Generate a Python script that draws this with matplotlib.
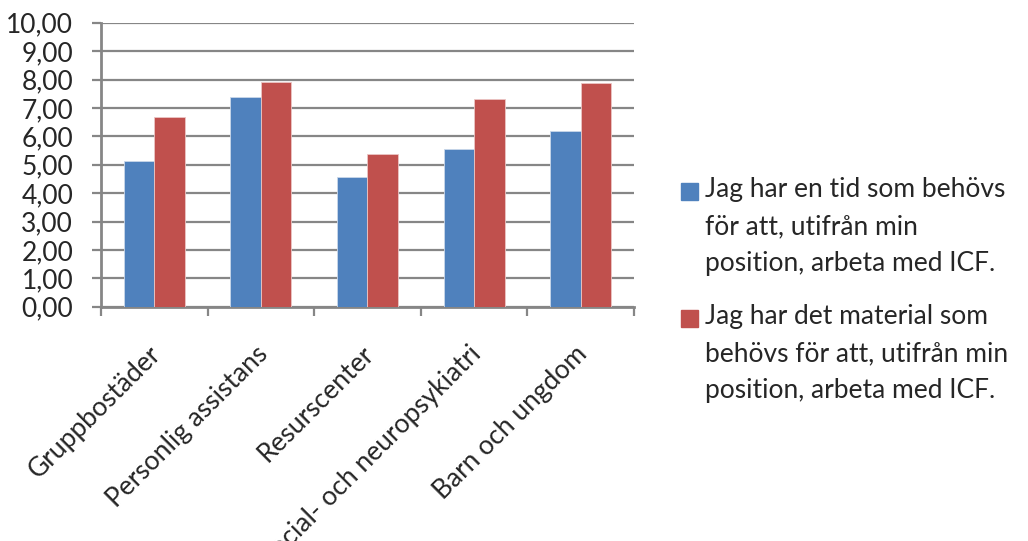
import numpy as np
import matplotlib
matplotlib.use("Agg")
import matplotlib.pyplot as plt
from matplotlib.patches import Rectangle
from matplotlib.transforms import ScaledTranslation

plt.rcParams['font.family'] = ['Lato', 'DejaVu Sans']

# Data per verksamhet
kategorier = ['Gruppbostäder', 'Personlig assistans', 'Resurscenter',
              'Social- och neuropsykiatri', 'Barn och ungdom']
tid = [5.14, 7.37, 4.58, 5.55, 6.19]
material = [6.67, 7.92, 5.37, 7.30, 7.89]

serie_namn = ['Jag har en tid som behövs\nför att, utifrån min\nposition, arbeta med ICF.',
              'Jag har det material som\nbehövs för att, utifrån min\nposition, arbeta med ICF.']

BLA = '#4F81BD'
ROD = '#C0504D'
GRA = '#868686'
TEXT = '#262626'
FS = 19

fig = plt.figure(figsize=(10.28, 5.41), dpi=100)
ax = fig.add_axes([0.0982, 0.433, 0.5185, 0.525])

x = np.arange(len(kategorier))
w = 1 / 3.5
ax.bar(x - w / 2, tid, w, color=BLA, edgecolor='#C9D7EA', linewidth=0.6, zorder=3)
ax.bar(x + w / 2, material, w, color=ROD, edgecolor='#EBC6C5', linewidth=0.6, zorder=3)

ax.set_xlim(-0.5, len(kategorier) - 0.5)
ax.set_ylim(0, 10)
ax.set_yticks(np.arange(0, 11, 1))
ax.set_yticklabels([f'{v:.2f}'.replace('.', ',') for v in range(0, 11)])
ax.yaxis.grid(True, color=GRA, linewidth=1.6, zorder=0)
ax.set_axisbelow(True)

for s in ['top', 'right']:
    ax.spines[s].set_visible(False)
for s in ['left', 'bottom']:
    ax.spines[s].set_color(GRA)
    ax.spines[s].set_linewidth(2.0)

ax.tick_params(axis='y', length=6.5, width=1.6, color=GRA, pad=13.5,
               labelsize=FS, labelcolor=TEXT)

# Kategorigränser som små streck under x-axeln
ax.set_xticks(np.arange(-0.5, len(kategorier), 1), minor=True)
ax.tick_params(axis='x', which='minor', length=6.5, width=1.6, color=GRA)
ax.set_xticks(x)
ax.set_xticklabels(kategorier, rotation=45, ha='right', va='center',
                   rotation_mode='anchor')
ax.tick_params(axis='x', which='major', length=0, pad=31, labelsize=FS,
               labelcolor=TEXT)
offset = ScaledTranslation(3 / 100, 0, fig.dpi_scale_trans)
for lbl in ax.get_xticklabels():
    lbl.set_transform(lbl.get_transform() + offset)

# Förklaring
for i, (namn, farg) in enumerate(zip(serie_namn, [BLA, ROD])):
    y_top = 1 - (183 + i * 127) / 541
    fig.add_artist(Rectangle((681 / 1028, y_top - 16.5 / 541), 16.5 / 1028, 16.5 / 541,
                             transform=fig.transFigure, color=farg))
    fig.text(705 / 1028, y_top + 6 / 541, namn, fontsize=FS, color=TEXT,
             va='top', ha='left', linespacing=1.6)

fig.savefig('out.png', dpi=100)
